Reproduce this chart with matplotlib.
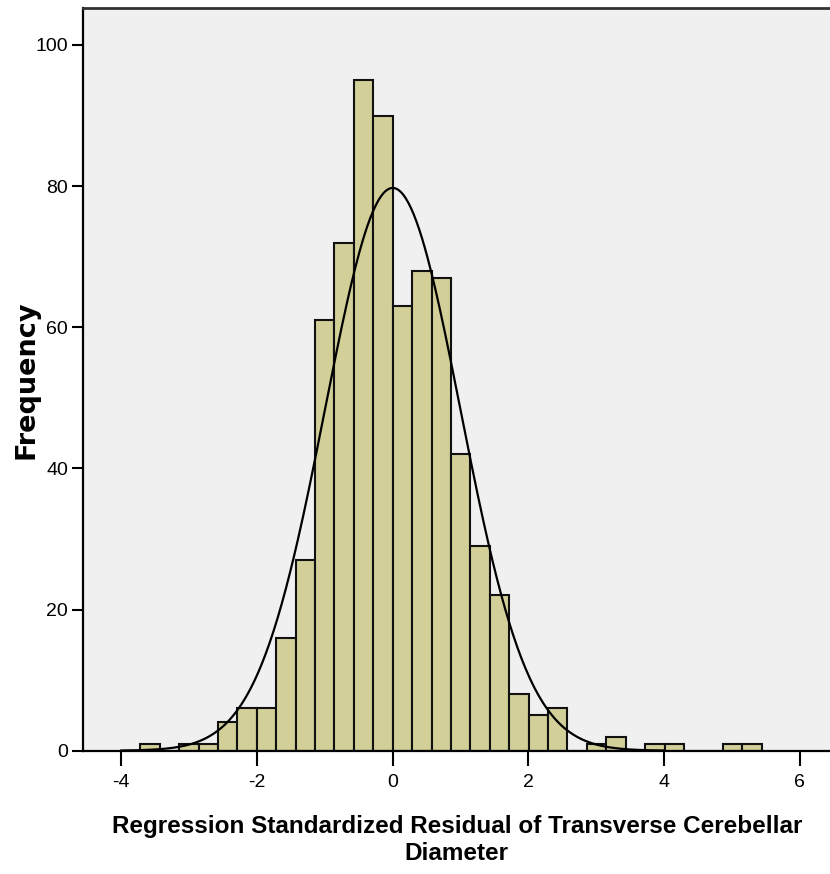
import numpy as np
import matplotlib
matplotlib.use('Agg')
import matplotlib.pyplot as plt

plt.rcParams['axes.unicode_minus'] = False

# histogram of standardized residuals
bin_width = 0.2862
first_edge = -13 * bin_width
counts = [1, 0, 1, 1, 4, 6, 6, 16, 27, 61, 72, 95, 90,
          63, 68, 67, 42, 29, 22, 8, 5, 6, 0, 1, 2, 0, 1, 1, 0, 0, 1, 1]
curve_mean = 0.0
curve_sd = 0.998
xticks = [-4, -2, 0, 2, 4, 6]
yticks = [0, 20, 40, 60, 80, 100]

narrow = ['Liberation Sans Narrow', 'Liberation Sans', 'DejaVu Sans']

fig = plt.figure(figsize=(8.3, 8.74), dpi=100)
ax = fig.add_axes([0.1004, 0.1411, 0.9, 0.8494])
ax.set_facecolor('#f0f0f0')

edges = first_edge + bin_width * np.arange(len(counts) + 1)
ax.bar(edges[:-1], counts, width=bin_width, align='edge',
       color='#d3cf99', edgecolor='#111111', linewidth=1.5, zorder=2)

n = sum(counts)
xs = np.linspace(-4.0, 4.0, 400)
ys = n * bin_width / (np.sqrt(2 * np.pi) * curve_sd) * np.exp(-0.5 * ((xs - curve_mean) / curve_sd) ** 2)
ax.plot(xs, ys, color='black', lw=1.6, zorder=3)

ax.set_xlim(-4.56, 6.45)
ax.set_ylim(0, 105.2)
ax.set_xticks(xticks)
ax.set_yticks(yticks)
ax.tick_params(axis='x', length=11, width=1.5, pad=6)
ax.tick_params(axis='y', length=8, width=1.5, pad=3)
for lab in ax.get_xticklabels() + ax.get_yticklabels():
    lab.set_family(narrow)
    lab.set_fontsize(14)

for side in ['left', 'bottom']:
    ax.spines[side].set_linewidth(1.6)
ax.spines['top'].set_linewidth(2.0)
ax.spines['top'].set_color('#333333')
ax.spines['right'].set_visible(False)

ax.set_xlabel('Regression Standardized Residual of Transverse Cerebellar\nDiameter',
              family=narrow, fontweight='bold', fontsize=17.5, linespacing=1.22)
ax.xaxis.set_label_coords(0.5, -0.087)
ax.xaxis.label.set_va('top')
ax.set_ylabel('Frequency', family='DejaVu Sans', fontweight='bold', fontsize=19.5)
ax.yaxis.set_label_coords(-0.0767, 0.5)
ax.yaxis.label.set_va('center')

fig.savefig('out.png', dpi=100)
